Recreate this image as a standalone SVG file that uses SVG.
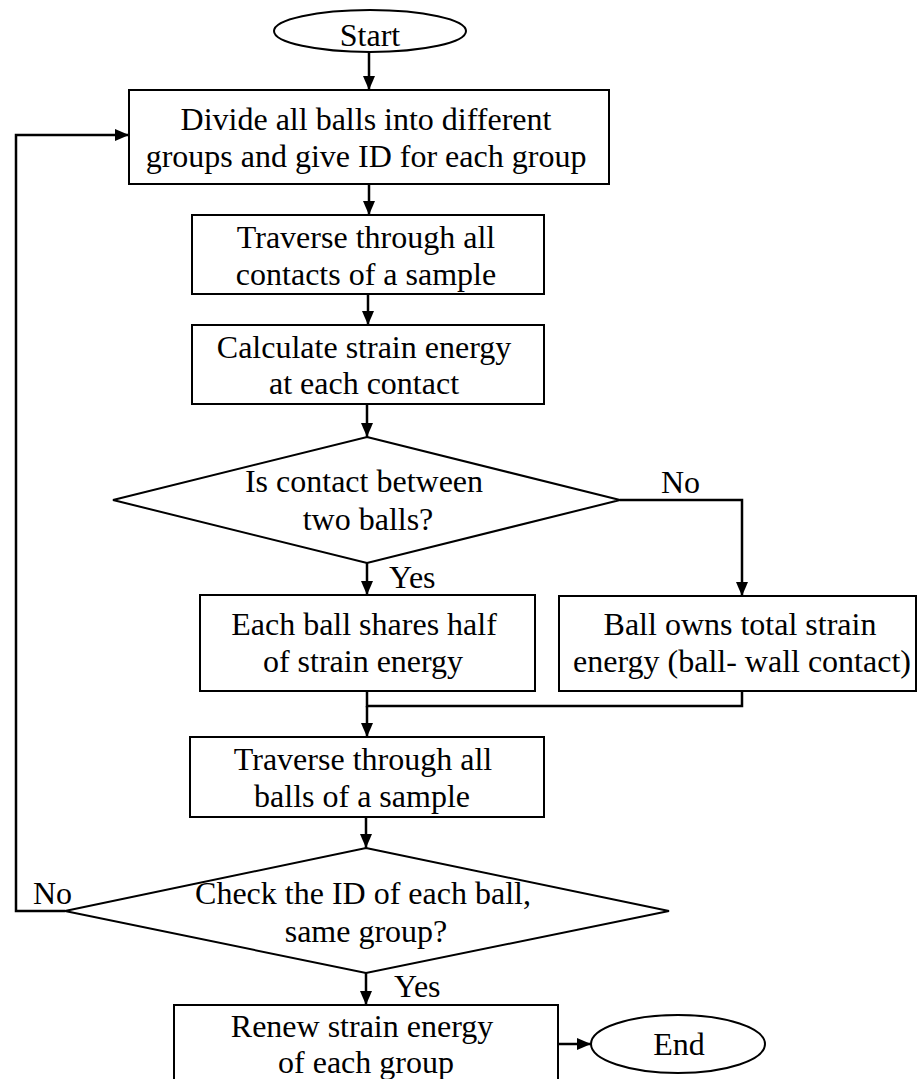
<svg xmlns="http://www.w3.org/2000/svg" width="919" height="1079" viewBox="0 0 919 1079">
  <style>
    .box { fill: #ffffff; stroke: #000000; stroke-width: 2; }
    .lbl { font-family: "Liberation Serif", "Times New Roman", serif; font-size: 32px; fill: #000000; }
    .mid { text-anchor: middle; }
    .wire { fill: none; stroke: #000000; stroke-width: 2.5; }
  </style>
  <defs>
    <marker id="arrow" markerWidth="14" markerHeight="12" refX="14" refY="6" orient="auto" markerUnits="userSpaceOnUse">
      <path d="M0,0 L14,6 L0,12 z" fill="#000000"/>
    </marker>
  </defs>
  <rect x="0" y="0" width="919" height="1079" fill="#ffffff"/>

  <!-- connectors -->
  <g id="connectors">
    <line class="wire" x1="369" y1="52" x2="369" y2="90" marker-end="url(#arrow)"/>
    <line class="wire" x1="369" y1="184" x2="369" y2="215" marker-end="url(#arrow)"/>
    <line class="wire" x1="368" y1="294" x2="368" y2="325" marker-end="url(#arrow)"/>
    <line class="wire" x1="367" y1="404" x2="367" y2="437" marker-end="url(#arrow)"/>
    <line class="wire" x1="367" y1="563" x2="367" y2="595" marker-end="url(#arrow)"/>
    <polyline class="wire" points="620,500 742,500 742,596" marker-end="url(#arrow)"/>
    <polyline class="wire" points="367,691 367,706 742,706 742,691" stroke-width="2"/>
    <line class="wire" x1="367" y1="706" x2="367" y2="737" marker-end="url(#arrow)"/>
    <line class="wire" x1="366" y1="817" x2="366" y2="848" marker-end="url(#arrow)"/>
    <line class="wire" x1="366" y1="973" x2="366" y2="1005" marker-end="url(#arrow)"/>
    <polyline class="wire" points="65,911 16,911 16,135 129,135" marker-end="url(#arrow)"/>
    <line class="wire" x1="558" y1="1044" x2="591" y2="1044" stroke-width="4" marker-end="url(#arrow)"/>
    <text class="lbl" x="389" y="588">Yes</text>
    <text class="lbl" x="661" y="493">No</text>
    <text class="lbl" x="394" y="997">Yes</text>
    <text class="lbl" x="33" y="904">No</text>
  </g>

  <g id="start">
    <ellipse class="box" cx="370" cy="31" rx="96" ry="21"/>
    <text class="lbl mid" x="370" y="46">Start</text>
  </g>

  <g id="divide">
    <rect class="box" x="129" y="90" width="480" height="94"/>
    <text class="lbl mid" x="366" y="130">Divide all balls into different</text>
    <text class="lbl mid" x="366" y="167">groups and give ID for each group</text>
  </g>

  <g id="traverse-contacts">
    <rect class="box" x="192" y="215" width="352" height="79"/>
    <text class="lbl mid" x="366" y="248">Traverse through all</text>
    <text class="lbl mid" x="366" y="285">contacts of a sample</text>
  </g>

  <g id="calculate">
    <rect class="box" x="192" y="325" width="352" height="79"/>
    <text class="lbl mid" x="364" y="358">Calculate strain energy</text>
    <text class="lbl mid" x="364" y="394">at each contact</text>
  </g>

  <g id="two-balls">
    <polygon class="box" points="367,437 620,500 367,563 113,500"/>
    <text class="lbl mid" x="364" y="492">Is contact between</text>
    <text class="lbl mid" x="368" y="530">two balls?</text>
  </g>

  <g id="share-half">
    <rect class="box" x="200" y="595" width="335" height="96"/>
    <text class="lbl mid" x="364" y="635">Each ball shares half</text>
    <text class="lbl mid" x="363" y="672">of strain energy</text>
  </g>

  <g id="owns-total">
    <rect class="box" x="559" y="596" width="357" height="95"/>
    <text class="lbl mid" x="740" y="635">Ball owns total strain</text>
    <text class="lbl mid" x="742" y="672">energy (ball- wall contact)</text>
  </g>

  <g id="traverse-balls">
    <rect class="box" x="190" y="737" width="354" height="80"/>
    <text class="lbl mid" x="363" y="770">Traverse through all</text>
    <text class="lbl mid" x="362" y="807">balls of a sample</text>
  </g>

  <g id="same-group">
    <polygon class="box" points="366,848 669,911 366,973 65,911"/>
    <text class="lbl mid" x="363" y="904">Check the ID of each ball,</text>
    <text class="lbl mid" x="366" y="942">same group?</text>
  </g>

  <g id="renew">
    <rect class="box" x="174" y="1005" width="384" height="85"/>
    <text class="lbl mid" x="362" y="1037">Renew strain energy</text>
    <text class="lbl mid" x="366" y="1073">of each group</text>
  </g>

  <g id="end">
    <ellipse class="box" cx="678" cy="1044" rx="87" ry="29"/>
    <text class="lbl mid" x="679" y="1055">End</text>
  </g>
</svg>
